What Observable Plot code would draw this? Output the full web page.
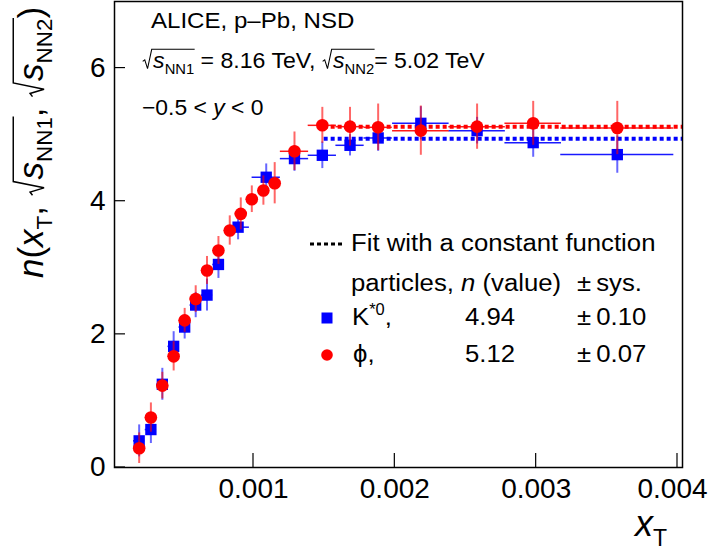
<!DOCTYPE html>
<html><head><meta charset="utf-8">
<script src="https://cdn.jsdelivr.net/npm/d3@7"></script>
<script src="https://cdn.jsdelivr.net/npm/@observablehq/plot@0.6"></script>
<style>body{margin:0;background:#fff}</style>
</head><body>
<script>
// K*0 (blue squares)
const kstarX  = [0.000191,0.000274,0.000355,0.000435,0.000513,0.000591,0.000671,0.000752,0.000891,0.00109,0.00129,0.001487,0.001683,0.001882,0.002184,0.002582,0.002979,0.003574];
const kstarY  = [0.40,0.57,1.25,1.82,2.11,2.44,2.59,3.05,3.61,4.36,4.64,4.69,4.84,4.95,5.17,5.06,4.88,4.70];
const kstarEy = [0.24,0.21,0.24,0.22,0.18,0.19,0.24,0.21,0.19,0.20,0.19,0.20,0.16,0.20,0.25,0.20,0.22,0.28];
const kstarEx = [0.00004,0.00004,0.00004,0.00004,0.00004,0.00004,0.00004,0.00004,0.00008,0.0001,0.0001,0.0001,0.0001,0.0001,0.0002,0.0002,0.0002,0.0004];
// phi (red circles)
const phiX  = [0.000191,0.000274,0.000355,0.000435,0.000513,0.000591,0.000671,0.000752,0.000832,0.00091,0.000988,0.00107,0.00115,0.00129,0.001487,0.001683,0.001882,0.002184,0.002582,0.002979,0.003574];
const phiY  = [0.29,0.75,1.23,1.67,2.21,2.53,2.96,3.26,3.56,3.81,4.03,4.16,4.27,4.75,5.14,5.12,5.11,5.06,5.12,5.17,5.10];
const phiEy = [0.23,0.22,0.20,0.22,0.18,0.20,0.21,0.21,0.22,0.24,0.20,0.22,0.31,0.29,0.27,0.29,0.35,0.37,0.34,0.33,0.40];
const phiEx = [0.00004,0.00004,0.00004,0.00004,0.00004,0.00004,0.00004,0.00004,0.00004,0.00004,0.00004,0.00004,0.00004,0.0001,0.0001,0.0001,0.0001,0.0002,0.0002,0.0002,0.0004];
// constant fits
const fitNames = ["K*0", "phi"];
const fitValues = [4.94, 5.12];
const fitSys = ["0.10", "0.07"];
const fitStart = 0.0015;
// axes
const xDomain = [0.0000165, 0.0040354];
const yDomain = [0, 7];
const xTicks = [0.001, 0.002, 0.003, 0.004];
const yTicks = [0, 2, 4, 6];

const BLUE = "#0000ff", RED = "#ff0000";
const FONT = "'Liberation Sans', Arial, Helvetica, sans-serif";

const kstar = kstarX.map((x, i) => ({x, y: kstarY[i], ey: kstarEy[i], ex: kstarEx[i]}));
const phi = phiX.map((x, i) => ({x, y: phiY[i], ey: phiEy[i], ex: phiEx[i]}));
const fits = fitValues.map((v, i) => ({name: fitNames[i], y: v, x1: fitStart, x2: xDomain[1]}));

function errMarks(data, color) {
  return [
    Plot.ruleX(data, {x: "x", y1: d => d.y - d.ey, y2: d => d.y + d.ey, stroke: color, strokeOpacity: 0.6, strokeWidth: 2}),
    Plot.ruleY(data, {y: "y", x1: d => d.x - d.ex, x2: d => d.x + d.ex, stroke: color, strokeOpacity: 0.9, strokeWidth: 1.5})
  ];
}

const plot = Plot.plot({
  width: 710, height: 553,
  marginLeft: 114, marginRight: 28, marginTop: 1, marginBottom: 86,
  x: {domain: xDomain},
  y: {domain: yDomain},
  style: {fontFamily: FONT, fontSize: "28px", color: "black", background: "white"},
  marks: [
    Plot.axisX(xTicks.slice(0, -1), {tickSize: 0, tickPadding: 11, tickFormat: d => d.toFixed(3), label: null, fontSize: 28}),
    Plot.axisX(xTicks.slice(-1), {tickSize: 0, tickPadding: 11, tickFormat: d => d.toFixed(3), label: null, fontSize: 28, dx: -5}),
    Plot.axisY(yTicks, {tickSize: 0, tickPadding: 9, tickFormat: d => String(d), label: null, fontSize: 28}),
    ...errMarks(kstar, BLUE),
    Plot.ruleY(fits, {y: "y", x1: "x1", x2: "x2", stroke: (d, i) => i === 0 ? BLUE : RED, strokeWidth: 4, strokeDasharray: "4,3"}),
    Plot.dot(kstar, {x: "x", y: "y", symbol: "square", r: 6.4, fill: BLUE, stroke: "none"}),
    ...errMarks(phi, RED),
    Plot.dot(phi, {x: "x", y: "y", symbol: "circle", r: 6.3, fill: RED, stroke: "none"}),
    Plot.frame({stroke: "black", strokeWidth: 1.5})
  ]
});
document.body.append(plot);

const svg = d3.select(plot);
const sx = plot.scale("x"), sy = plot.scale("y");
const x0 = sx.apply(xDomain[0]), yBottom = sy.apply(yDomain[0]);

// inward ticks (ROOT style)
const tickG = svg.append("g").attr("stroke", "black").attr("stroke-width", 1.2);
yTicks.forEach(t => tickG.append("line").attr("x1", x0).attr("x2", x0 + 11).attr("y1", sy.apply(t)).attr("y2", sy.apply(t)));
xTicks.forEach(t => tickG.append("line").attr("x1", sx.apply(t)).attr("x2", sx.apply(t)).attr("y1", yBottom).attr("y2", yBottom - 14));

// rich text helper with sub/sup/italic/sqrt
function rich(parent, x, y, size, parts, opt = {}) {
  const g = parent.append("g").attr("transform", `translate(${x},${y})` + (opt.rotate ? ` rotate(${opt.rotate})` : "") + (opt.sx ? ` scale(${opt.sx},1)` : ""));
  const text = g.append("text").attr("font-size", size).attr("fill", "black").attr("font-family", FONT)
    .attr("text-anchor", opt.anchor || "start");
  let idx = 0, shift = 0, pendingDx = 0;
  const sqrts = [];
  const gap = 0.48 * size;
  function add(p) {
    if (p.sqrt) {
      pendingDx += gap;
      const start = idx;
      p.sqrt.forEach(add);
      sqrts.push([start, idx - 1]);
      return;
    }
    const target = p.sub ? 0.27 * size : p.sup ? -0.42 * size : 0;
    const ts = text.append("tspan").text(p.t);
    if (target !== shift) ts.attr("dy", target - shift);
    shift = target;
    if (pendingDx) { ts.attr("dx", pendingDx); pendingDx = 0; }
    if (p.dx) ts.attr("dx", p.dx);
    if (p.sub || p.sup) ts.attr("font-size", 0.64 * size);
    if (p.it) ts.attr("font-style", "italic");
    idx += p.t.length;
  }
  parts.forEach(add);
  const node = text.node();
  for (const [s, e] of sqrts) {
    const a = node.getStartPositionOfChar(s).x;
    const b = node.getEndPositionOfChar(e).x;
    const xs = a - gap;
    const h = 0.85 * size;
    const d = `M${xs + 0.03 * size},${-0.30 * size} L${xs + 0.12 * size},${-0.37 * size} L${xs + 0.24 * size},${0.03 * size} L${a - 0.06 * size},${-h} L${b + 0.02 * size},${-h}`;
    g.append("path").attr("d", d).attr("fill", "none").attr("stroke", "black").attr("stroke-width", Math.max(1, size / 24));
  }
  return g;
}

// annotations
rich(svg, 151, 28, 21.5, [{t: "ALICE, p\u2013Pb, NSD"}], {sx: 1.12});
rich(svg, 142, 68, 22, [
  {sqrt: [{t: "s", it: true}, {t: "NN1", sub: true}]}, {t: " = 8.16 TeV, "},
  {sqrt: [{t: "s", it: true}, {t: "NN2", sub: true}]}, {t: "= 5.02 TeV"}
], {sx: 1.05});
rich(svg, 142, 115, 22, [{t: "\u22120.5 < "}, {t: "y", it: true}, {t: " < 0"}], {sx: 1.04});

// legend
const LS = 24.5, LX = 1.05;
svg.append("line").attr("x1", 310).attr("x2", 344).attr("y1", 244).attr("y2", 244)
  .attr("stroke", "black").attr("stroke-width", 3).attr("stroke-dasharray", "4,3");
rich(svg, 351, 251, LS, [{t: "Fit with a constant function"}], {sx: LX});
rich(svg, 351, 291, LS, [{t: "particles, "}, {t: "n", it: true}, {t: " (value)"}], {sx: LX});
rich(svg, 577, 291, LS, [{t: "\u00b1\u2009sys."}], {sx: LX});
svg.append("rect").attr("x", 321.5).attr("y", 312.5).attr("width", 11).attr("height", 11).attr("fill", BLUE);
rich(svg, 352, 325, LS, [{t: "K"}, {t: "*0", sup: true}, {t: ","}], {sx: LX});
rich(svg, 465, 325, LS, [{t: fitValues[0].toFixed(2)}], {sx: LX});
rich(svg, 577, 325, LS, [{t: "\u00b1\u2009" + fitSys[0]}], {sx: LX});
svg.append("circle").attr("cx", 327).attr("cy", 355).attr("r", 5.8).attr("fill", RED);
rich(svg, 353, 362, LS, [{t: "\u03d5,"}], {sx: LX});
rich(svg, 465, 362, LS, [{t: fitValues[1].toFixed(2)}], {sx: LX});
rich(svg, 577, 362, LS, [{t: "\u00b1\u2009" + fitSys[1]}], {sx: LX});

// axis titles
rich(svg, 635, 536, 36, [{t: "x", it: true}, {t: "T", sub: true}]);
rich(svg, 43, 278, 35, [
  {t: "n", it: true}, {t: "("}, {t: "x", it: true}, {t: "T", sub: true}, {t: ", "},
  {sqrt: [{t: "s", it: true}, {t: "NN1", sub: true}]}, {t: ", "},
  {sqrt: [{t: "s", it: true}, {t: "NN2", sub: true}]}, {t: ")"}
], {rotate: -90});
</script>
</body></html>
